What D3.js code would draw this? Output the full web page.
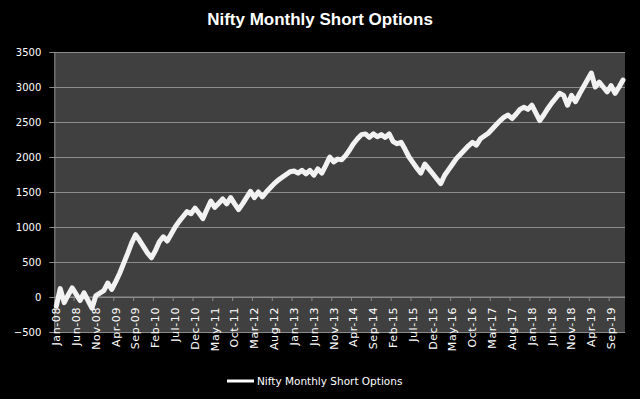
<!DOCTYPE html>
<html lang="en">
  <head>
    <meta charset="UTF-8" />
    <title>Nifty Monthly Short Options</title>
    <script src="https://d3js.org/d3.v7.min.js"></script>
    <style>
      body {
        margin: 0;
        background-color: #000;
      }
      svg {
        display: block;
      }
      .tick-label {
        font-family: "DejaVu Sans", sans-serif;
        font-size: 10px;
        fill: #fff;
      }
    </style>
  </head>
  <body>
    <div id="chart"></div>
    <script>
      // Series values, Jan-08 .. Dec-19
      const pnl = [
        -130, 120, -80, 30, 130, 40, -50, 60, -50, -160, 20, 55,
        90, 200, 110, 220, 340, 480, 620, 770, 890, 810, 720, 630,
        560, 660, 790, 860, 800, 900, 1000, 1080, 1150, 1220, 1190, 1270,
        1200, 1120, 1250, 1370, 1280, 1340, 1400, 1330, 1420, 1330, 1250, 1330,
        1420, 1510, 1420, 1500, 1430, 1500, 1560, 1620, 1670, 1710, 1750, 1790,
        1800, 1770, 1810, 1760, 1810, 1740, 1830, 1770, 1880, 2000, 1930, 1970,
        1960, 2020, 2100, 2190, 2260, 2320, 2330, 2280, 2330, 2290, 2320, 2280,
        2330, 2220, 2190, 2210, 2110, 2000, 1920, 1840, 1770, 1900, 1830, 1760,
        1690, 1620, 1740, 1820, 1900, 1980, 2040, 2100, 2160, 2210, 2170, 2260,
        2300, 2340, 2400, 2460, 2520, 2570, 2600, 2550, 2610, 2680, 2710, 2680,
        2740, 2630, 2520, 2600, 2690, 2770, 2840, 2910, 2880, 2740, 2880, 2790,
        2900, 3000, 3100, 3200, 3000, 3070, 3000, 2930, 3020, 2910, 3000, 3100,
      ];

      // Month categories
      const fmt = d3.timeFormat("%b-%y");
      const months = d3
        .timeMonths(new Date(2008, 0, 1), new Date(2020, 0, 1))
        .map(fmt);

      const yTicks = [-500, 0, 500, 1000, 1500, 2000, 2500, 3000, 3500];
      const seriesName = "Nifty Monthly Short Options";

      const W = 640,
        H = 399;
      const plot = { left: 54.3, right: 625, top: 52, bottom: 332 };

      const svg = d3
        .select("#chart")
        .append("svg")
        .attr("width", W)
        .attr("height", H);

      const x = d3
        .scaleBand()
        .domain(months)
        .range([plot.left, plot.right])
        .padding(0);

      const y = d3
        .scaleLinear()
        .domain([-500, 3500])
        .range([plot.bottom, plot.top]);

      // Plot area
      svg
        .append("rect")
        .attr("x", plot.left)
        .attr("y", plot.top)
        .attr("width", plot.right - plot.left)
        .attr("height", plot.bottom - plot.top)
        .attr("fill", "#404040");

      // Gridlines + y axis
      const yAxis = svg
        .append("g")
        .attr("transform", `translate(${plot.left},0)`)
        .call(
          d3
            .axisLeft(y)
            .tickValues(yTicks)
            .tickFormat(d3.format("d"))
            .tickSize(-(plot.right - plot.left))
            .tickSizeOuter(0)
            .tickPadding(13)
        );
      yAxis.select(".domain").attr("stroke", "#8c8c8c");
      yAxis
        .selectAll(".tick line")
        .attr("stroke", "#8c8c8c")
        .attr("x1", -5);
      yAxis
        .selectAll(".tick text")
        .attr("class", "tick-label")
        .attr("fill", "#fff");

      // X axis at zero
      const labelIdx = months.filter((d, i) => i % 5 === 0);
      const xAxis = svg
        .append("g")
        .attr("transform", `translate(0,${y(0)})`)
        .call(d3.axisBottom(x).tickValues(labelIdx).tickSize(0).tickPadding(0));
      xAxis.select(".domain").remove();
      xAxis
        .selectAll(".tick text")
        .attr("class", "tick-label")
        .attr("fill", "#fff")
        .style("font-size", "11px")
        .style("letter-spacing", "0.6px")
        .attr("transform", "rotate(-90)")
        .attr("text-anchor", "end")
        .attr("x", -10)
        .attr("y", 0)
        .attr("dy", "0.35em");

      svg
        .append("line")
        .attr("x1", plot.left)
        .attr("x2", plot.right)
        .attr("y1", y(0))
        .attr("y2", y(0))
        .attr("stroke", "#8c8c8c");

      svg
        .selectAll(".xtick")
        .data(months.filter((d, i) => i % 5 === 0 && i > 0))
        .enter()
        .append("line")
        .attr("x1", (d) => x(d))
        .attr("x2", (d) => x(d))
        .attr("y1", y(0))
        .attr("y2", y(0) + 4)
        .attr("stroke", "#8c8c8c");

      // Series line
      const line = d3
        .line()
        .x((d, i) => x(months[i]) + x.bandwidth() / 2)
        .y((d) => y(d))
        .curve(d3.curveLinear);

      svg
        .append("path")
        .datum(pnl)
        .attr("d", line)
        .attr("fill", "none")
        .attr("stroke", "#f2f2f2")
        .attr("stroke-width", 5)
        .attr("stroke-linejoin", "round")
        .attr("stroke-linecap", "round");

      // Title
      svg
        .append("text")
        .attr("x", 320)
        .attr("y", 25)
        .attr("text-anchor", "middle")
        .attr("fill", "#fff")
        .style("font-family", "'Liberation Sans', Arial, sans-serif")
        .style("font-weight", "bold")
        .style("font-size", "17px")
        .text(seriesName);

      // Legend
      const legend = svg.append("g").attr("transform", "translate(227,381)");
      legend
        .append("line")
        .attr("x1", 0)
        .attr("x2", 27)
        .attr("stroke", "#fff")
        .attr("stroke-width", 3);
      legend
        .append("text")
        .attr("x", 30)
        .attr("dy", "0.35em")
        .attr("class", "tick-label")
        .style("font-size", "10.5px")
        .text(seriesName);
    </script>
  </body>
</html>
